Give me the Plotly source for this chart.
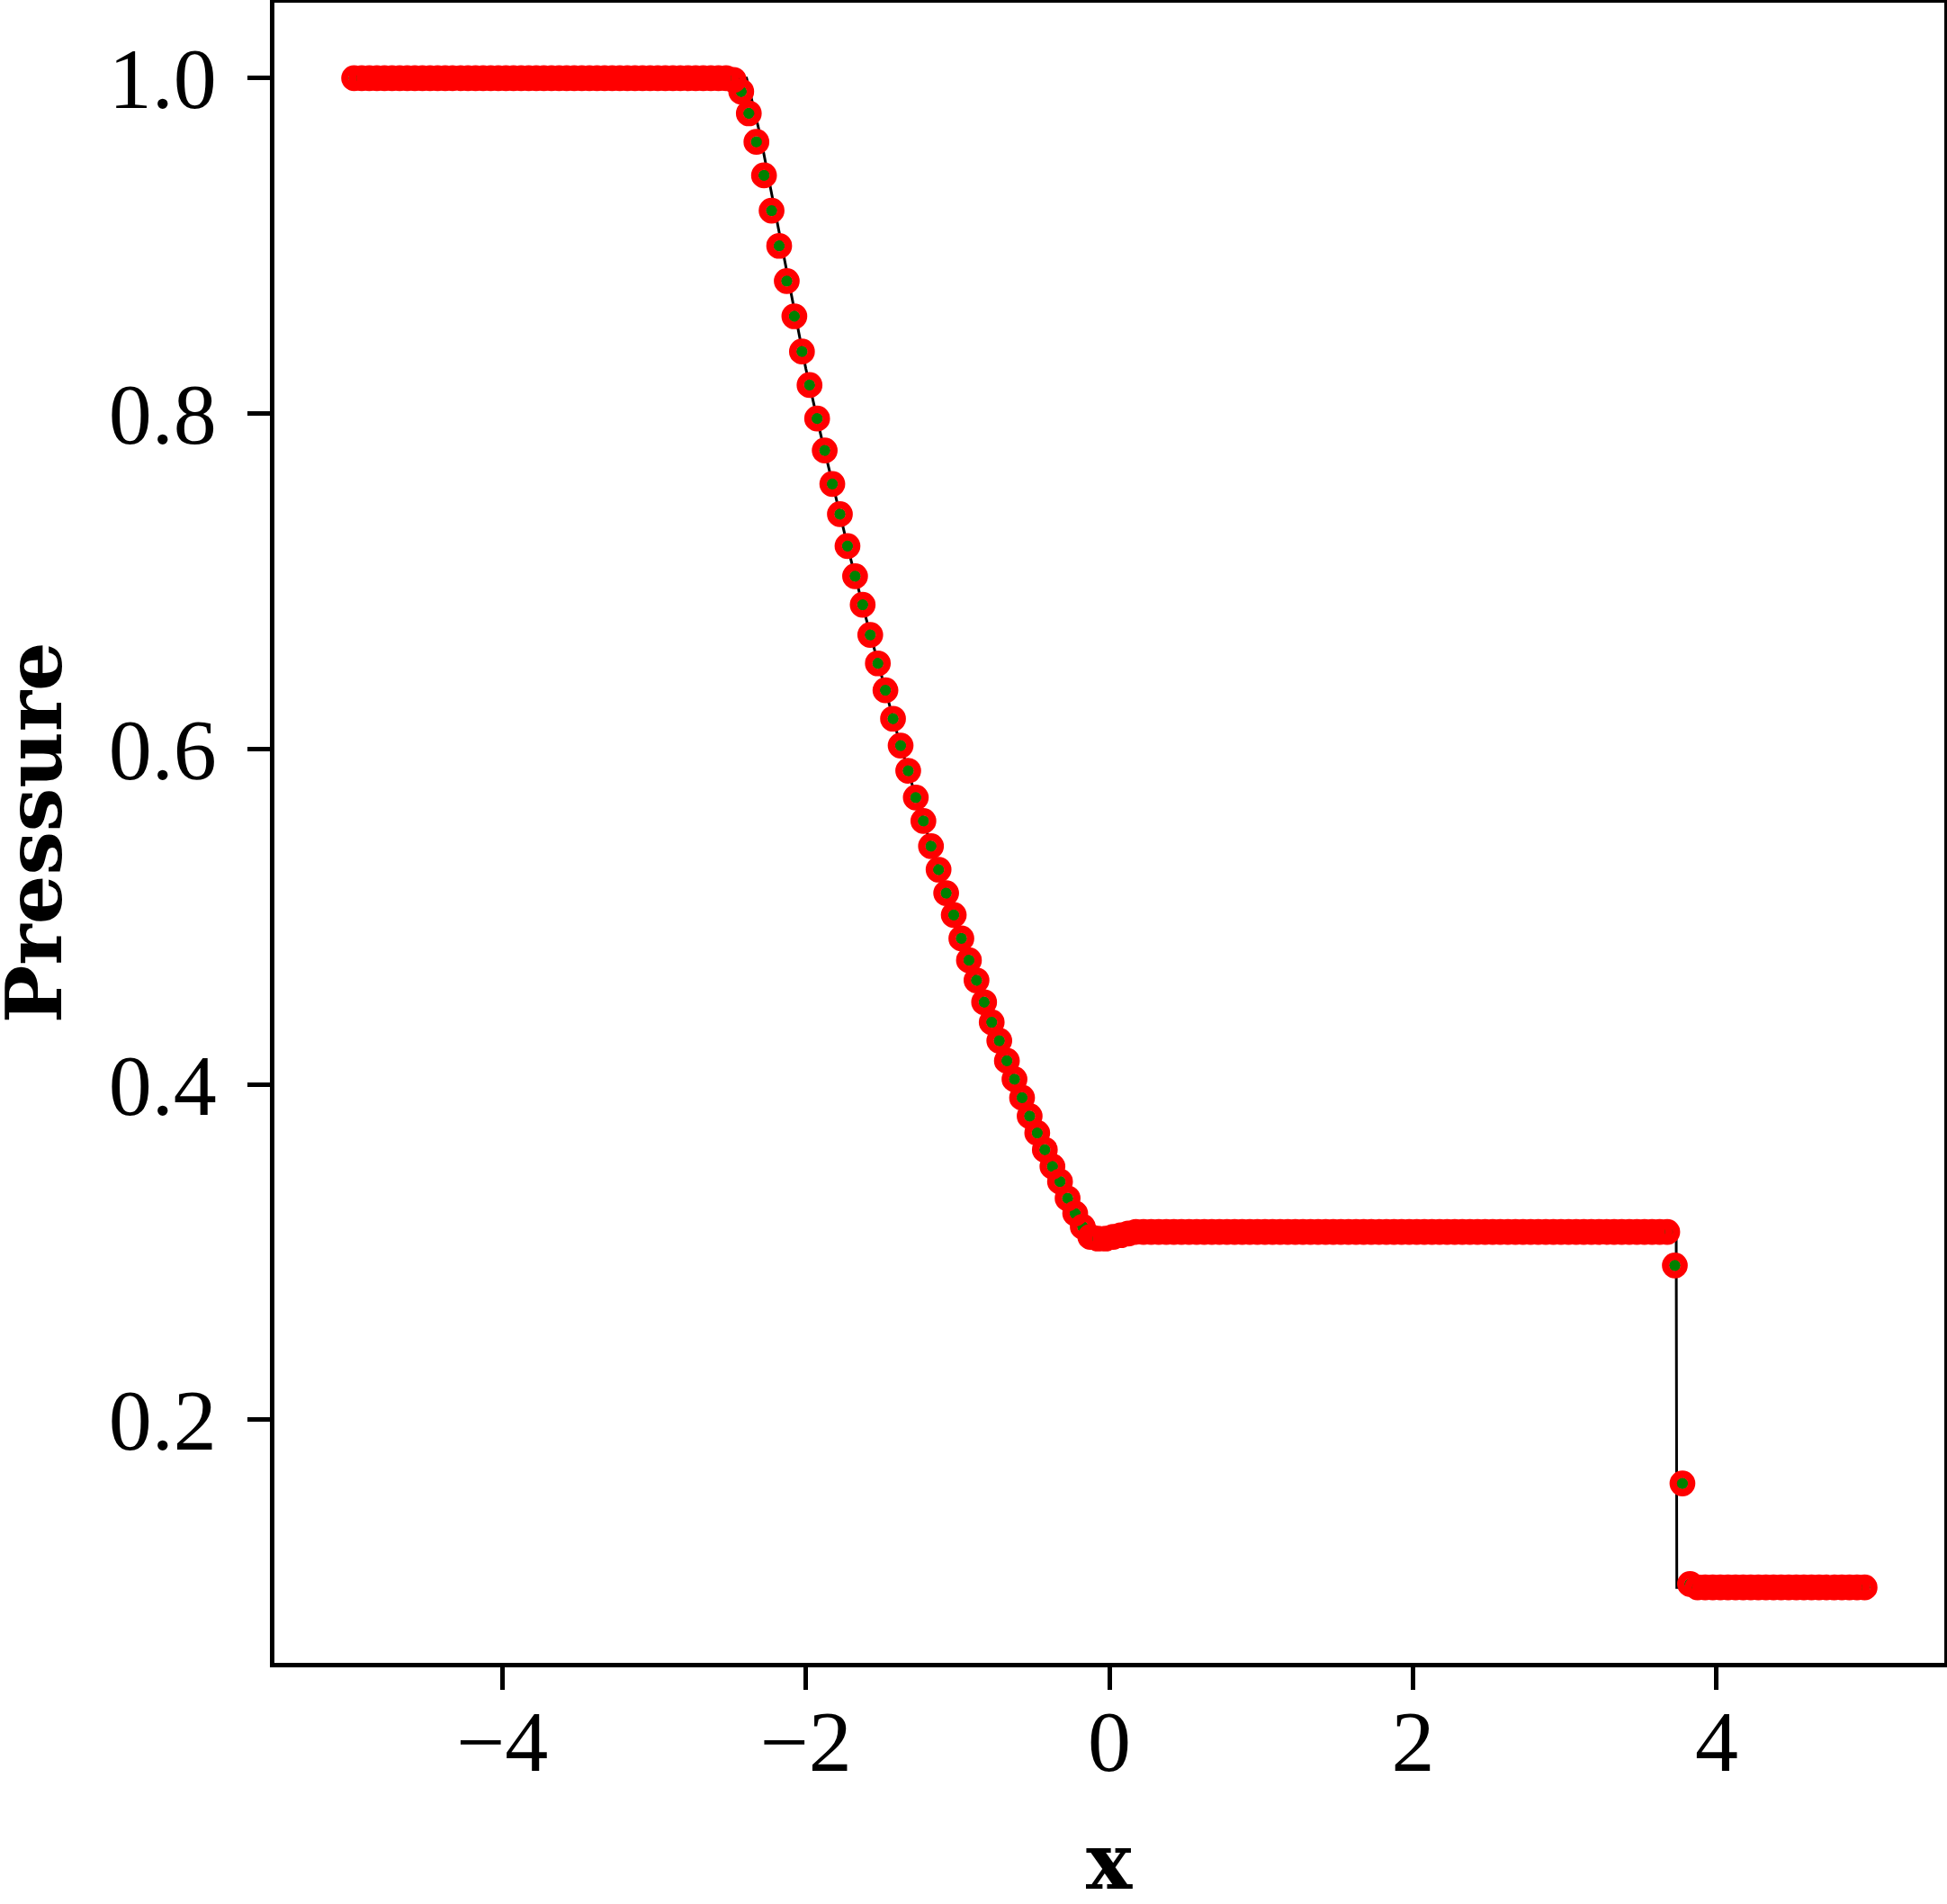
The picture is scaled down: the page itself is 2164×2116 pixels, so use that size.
import numpy as np
import plotly.graph_objects as go

# ---- numerical solution: cell centres of a 200-cell grid on [-5, 5] ----
x_cells = np.round(np.linspace(-4.975, 4.975, 200), 3)

pressure_num = [
    # left state (i = 0..50)
    1.0, 1.0, 1.0, 1.0, 1.0, 1.0, 1.0, 1.0, 1.0, 1.0,
    1.0, 1.0, 1.0, 1.0, 1.0, 1.0, 1.0, 1.0, 1.0, 1.0,
    1.0, 1.0, 1.0, 1.0, 1.0, 1.0, 1.0, 1.0, 1.0, 1.0,
    1.0, 1.0, 1.0, 1.0, 1.0, 1.0, 1.0, 1.0, 1.0, 1.0,
    1.0, 1.0, 1.0, 1.0, 1.0, 1.0, 1.0, 1.0, 1.0, 1.0,
    0.999,
    # rarefaction fan (i = 51..96)
    0.992, 0.979, 0.962, 0.942, 0.921, 0.900, 0.879, 0.858, 0.837, 0.817,
    0.797, 0.778, 0.758, 0.740, 0.721, 0.703, 0.686, 0.668, 0.651, 0.635,
    0.618, 0.602, 0.587, 0.571, 0.557, 0.542, 0.528, 0.514, 0.501, 0.487,
    0.474, 0.462, 0.449, 0.437, 0.426, 0.414, 0.403, 0.392, 0.381, 0.371,
    0.361, 0.351, 0.342, 0.332, 0.323, 0.315,
    # tail undershoot (i = 97..102)
    0.309, 0.308, 0.308, 0.309, 0.310, 0.311,
    # star state (i = 103..173)
    0.312, 0.312, 0.312, 0.312, 0.312, 0.312, 0.312, 0.312, 0.312, 0.312,
    0.312, 0.312, 0.312, 0.312, 0.312, 0.312, 0.312, 0.312, 0.312, 0.312,
    0.312, 0.312, 0.312, 0.312, 0.312, 0.312, 0.312, 0.312, 0.312, 0.312,
    0.312, 0.312, 0.312, 0.312, 0.312, 0.312, 0.312, 0.312, 0.312, 0.312,
    0.312, 0.312, 0.312, 0.312, 0.312, 0.312, 0.312, 0.312, 0.312, 0.312,
    0.312, 0.312, 0.312, 0.312, 0.312, 0.312, 0.312, 0.312, 0.312, 0.312,
    0.312, 0.312, 0.312, 0.312, 0.312, 0.312, 0.312, 0.312, 0.312, 0.312,
    0.312,
    # shock (i = 174..176)
    0.292, 0.162, 0.102,
    # right state (i = 177..199)
    0.1, 0.1, 0.1, 0.1, 0.1, 0.1, 0.1, 0.1, 0.1, 0.1,
    0.1, 0.1, 0.1, 0.1, 0.1, 0.1, 0.1, 0.1, 0.1, 0.1,
    0.1, 0.1, 0.1,
]

# ---- reference (exact) solution ----
x_exact = [-5.0, -2.39, -2.30, -2.20, -2.10, -2.0, -1.9, -1.8, -1.7, -1.6,
           -1.5, -1.4, -1.3, -1.2, -1.1, -1.0, -0.9, -0.8, -0.7, -0.6,
           -0.5, -0.4, -0.3, -0.2, -0.13, 3.734, 3.738, 5.0]
p_exact = [1.0, 1.0, 0.966, 0.920, 0.873, 0.827, 0.787, 0.749, 0.712, 0.677,
           0.643, 0.610, 0.579, 0.550, 0.521, 0.494, 0.468, 0.443, 0.420, 0.397,
           0.376, 0.356, 0.337, 0.319, 0.312, 0.312, 0.1, 0.1]

x_ticks = [-4, -2, 0, 2, 4]
y_ticks = [0.2, 0.4, 0.6, 0.8, 1.0]

fig = go.Figure()
fig.add_trace(go.Scatter(x=x_exact, y=p_exact, mode="lines",
                         line=dict(color="black", width=3), showlegend=False))
fig.add_trace(go.Scatter(x=x_cells, y=pressure_num, mode="markers",
                         marker=dict(symbol="circle", color="green", size=13,
                                     line=dict(width=0)), showlegend=False))
fig.add_trace(go.Scatter(x=x_cells, y=pressure_num, mode="markers",
                         marker=dict(symbol="circle-open", color="red", size=20.5,
                                     line=dict(width=8.2, color="red")),
                         showlegend=False))

tick_font = dict(family="Liberation Serif", size=96, color="black")
label_font = dict(family="DejaVu Serif", size=86, color="black", weight="bold")

fig.update_layout(
    width=2164, height=2116,
    margin=dict(l=305, r=3, t=3, b=268, autoexpand=False),
    paper_bgcolor="white", plot_bgcolor="white",
    xaxis=dict(range=[-5.5, 5.5], tickvals=x_ticks,
               ticktext=["\u22124", "\u22122", "0", "2", "4"],
               ticks="outside", ticklen=25, tickwidth=5, tickcolor="black",
               showline=True, linecolor="black", linewidth=5, mirror=True,
               showgrid=False, zeroline=False, tickfont=tick_font,
               automargin=False, ticklabelstandoff=-25),
    yaxis=dict(range=[0.055, 1.045], tickvals=y_ticks, tickformat=".1f",
               ticks="outside", ticklen=25, tickwidth=5, tickcolor="black",
               showline=True, linecolor="black", linewidth=5, mirror=True,
               showgrid=False, zeroline=False, tickfont=tick_font,
               automargin=False, ticklabelstandoff=15),
    annotations=[
        dict(text="x", xref="paper", yref="paper", x=0.5, y=-0.119,
             xanchor="center", yanchor="middle", showarrow=False,
             font=label_font, height=70, valign="middle", borderpad=0),
        dict(text="Pressure", xref="paper", yref="paper", x=-0.1445, y=0.5,
             xanchor="center", yanchor="middle", textangle=-90,
             showarrow=False, font=label_font, height=64, valign="middle",
             borderpad=0),
    ],
)

fig.write_html("out.html",
               config={"displayModeBar": False},
               post_script="document.body.style.margin='0';"
                           "document.body.style.padding='0';")
